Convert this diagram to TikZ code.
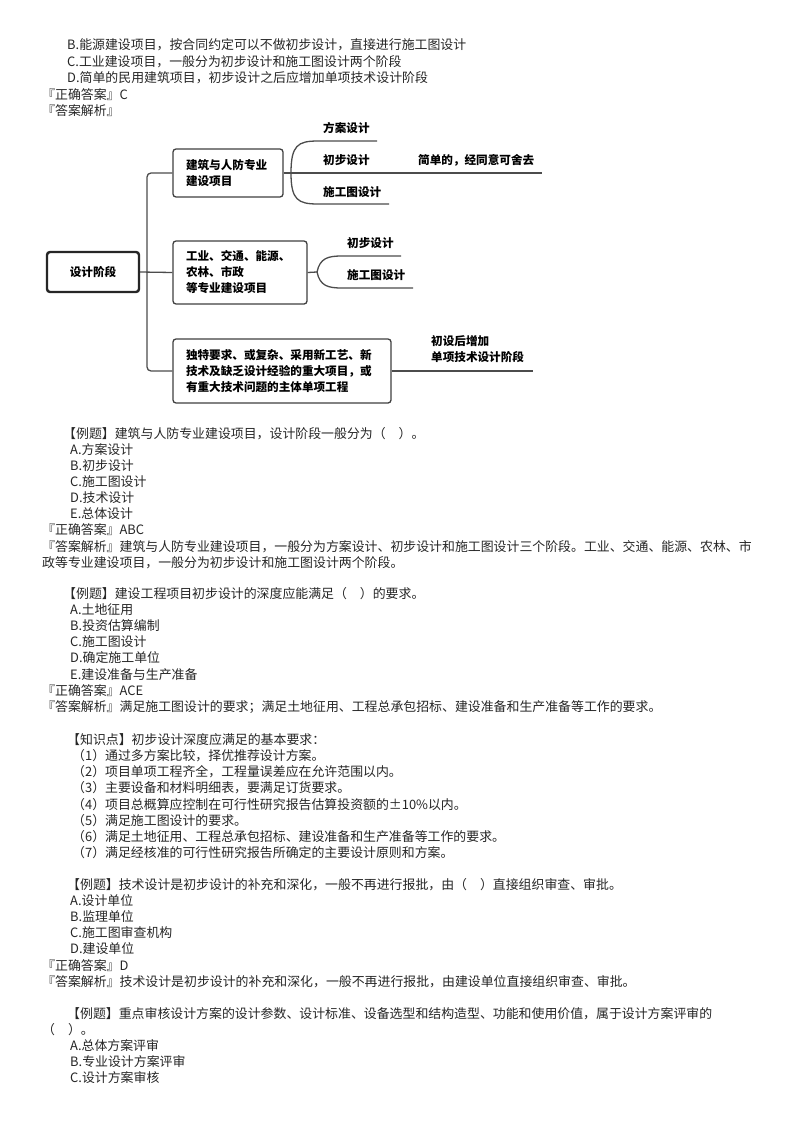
\documentclass[tikz,border=0pt]{standalone}
\usepackage{fontspec}
\setmainfont{Noto Sans CJK SC}
\begin{document}
\begin{tikzpicture}[x=1pt,y=-1pt,
  txt/.style={anchor=west,inner sep=0pt,font=\fontsize{12.9}{15}\selectfont,text=black!85},
  mm/.style={font=\bfseries\fontsize{11.6}{16}\selectfont,inner sep=0pt,text=black},
  bx/.style={draw=black!75,line width=1.3pt,rounded corners=3pt,align=left,inner xsep=13pt,inner ysep=0pt,font=\bfseries\fontsize{11.6}{16}\selectfont},
  ln/.style={draw=black!70,line width=1.3pt}]
\useasboundingbox[fill=white] (0,0) rectangle (800,1132);
% top text
\node[txt] (t1) at (67,45) {B.能源建设项目，按合同约定可以不做初步设计，直接进行施工图设计};
\node[txt] (t2) at (67,62) {C.工业建设项目，一般分为初步设计和施工图设计两个阶段};
\node[txt] (t3) at (67,78) {D.简单的民用建筑项目，初步设计之后应增加单项技术设计阶段};
\node[txt] (t4) at (42,95) {『正确答案』C};
\node[txt] (t5) at (42,111) {『答案解析』};
% mind map
\node[bx,line width=2.4pt,draw=black!85,minimum width=92pt,minimum height=40pt,align=center,inner xsep=4pt] (root) at (93,272) {设计阶段};
\node[bx,minimum width=110pt,minimum height=48pt,text width=84pt] (b1) at (228,173) {建筑与人防专业\\建设项目};
\node[bx,minimum width=134pt,minimum height=63pt,text width=108pt] (b2) at (240,272.5) {工业、交通、能源、\\农林、市政\\等专业建设项目};
\node[bx,minimum width=218pt,minimum height=64pt,text width=192pt] (b3) at (282,371) {独特要求、或复杂、采用新工艺、新\\技术及缺乏设计经验的重大项目，或\\有重大技术问题的主体单项工程};
\coordinate (tr) at (147,272);
\draw[ln,rounded corners=4pt] (b1.west) -| (tr) |- (b3.west);
\draw[ln] (root.east) -- (b2.west);
% branch 1
\coordinate (e1) at (542,173);
\coordinate (s1) at (291,173);
\coordinate (a1) at (377,141);
\coordinate (c1) at (389,204);
\draw[ln] (b1.east) -- (e1);
\draw[ln] (s1) .. controls (291,145) and (298,141) .. (318,141) -- (a1);
\draw[ln] (s1) .. controls (291,200) and (298,204) .. (318,204) -- (c1);
\node[mm,anchor=west] (l11) at (323,128) {方案设计};
\node[mm,anchor=west] (l12) at (323,160) {初步设计};
\node[mm,anchor=west] (l13) at (418,160) {简单的，经同意可舍去};
\node[mm,anchor=west] (l14) at (323,192) {施工图设计};
% branch 2
\coordinate (s2) at (317,272);
\coordinate (a2) at (401,256);
\coordinate (c2) at (413,288);
\draw[ln] (b2.east) -- (s2);
\draw[ln] (s2) .. controls (320,258) and (328,256) .. (342,256) -- (a2);
\draw[ln] (s2) .. controls (320,286) and (328,288) .. (342,288) -- (c2);
\node[mm,anchor=west] (l21) at (347,243) {初步设计};
\node[mm,anchor=west] (l22) at (347,275) {施工图设计};
% branch 3
\coordinate (e3) at (533,371);
\draw[ln] (b3.east) -- (e3);
\node[mm,anchor=west,align=left] (l31) at (431,349) {初设后增加\\单项技术设计阶段};
% example 1
\node[txt] (p1) at (63,434) {【例题】建筑与人防专业建设项目，设计阶段一般分为（\quad）。};
\node[txt] (p2) at (70,450) {A.方案设计};
\node[txt] (p3) at (70,466) {B.初步设计};
\node[txt] (p4) at (70,482) {C.施工图设计};
\node[txt] (p5) at (70,498) {D.技术设计};
\node[txt] (p6) at (70,514) {E.总体设计};
\node[txt] (p7) at (42,530) {『正确答案』ABC};
\node[txt] (p8) at (42,547) {『答案解析』建筑与人防专业建设项目，一般分为方案设计、初步设计和施工图设计三个阶段。工业、交通、能源、农林、市};
\node[txt] (p9) at (42,563) {政等专业建设项目，一般分为初步设计和施工图设计两个阶段。};
% example 2
\node[txt] (q1) at (63,594) {【例题】建设工程项目初步设计的深度应能满足（\quad）的要求。};
\node[txt] (q2) at (70,610) {A.土地征用};
\node[txt] (q3) at (70,626) {B.投资估算编制};
\node[txt] (q4) at (70,642) {C.施工图设计};
\node[txt] (q5) at (70,658) {D.确定施工单位};
\node[txt] (q6) at (70,675) {E.建设准备与生产准备};
\node[txt] (q7) at (42,691) {『正确答案』ACE};
\node[txt] (q8) at (42,707) {『答案解析』满足施工图设计的要求；满足土地征用、工程总承包招标、建设准备和生产准备等工作的要求。};
% knowledge
\node[txt] (k0) at (67,740) {【知识点】初步设计深度应满足的基本要求：};
\node[txt] (k1) at (72,756) {（1）通过多方案比较，择优推荐设计方案。};
\node[txt] (k2) at (72,772) {（2）项目单项工程齐全，工程量误差应在允许范围以内。};
\node[txt] (k3) at (72,788) {（3）主要设备和材料明细表，要满足订货要求。};
\node[txt] (k4) at (72,805) {（4）项目总概算应控制在可行性研究报告估算投资额的±10\%以内。};
\node[txt] (k5) at (72,821) {（5）满足施工图设计的要求。};
\node[txt] (k6) at (72,837) {（6）满足土地征用、工程总承包招标、建设准备和生产准备等工作的要求。};
\node[txt] (k7) at (72,853) {（7）满足经核准的可行性研究报告所确定的主要设计原则和方案。};
% example 3
\node[txt] (r1) at (67,885) {【例题】技术设计是初步设计的补充和深化，一般不再进行报批，由（\quad）直接组织审查、审批。};
\node[txt] (r2) at (70,901) {A.设计单位};
\node[txt] (r3) at (70,917) {B.监理单位};
\node[txt] (r4) at (70,933) {C.施工图审查机构};
\node[txt] (r5) at (70,949) {D.建设单位};
\node[txt] (r6) at (42,966) {『正确答案』D};
\node[txt] (r7) at (42,982) {『答案解析』技术设计是初步设计的补充和深化，一般不再进行报批，由建设单位直接组织审查、审批。};
% example 4
\node[txt] (s1t) at (67,1014) {【例题】重点审核设计方案的设计参数、设计标准、设备选型和结构造型、功能和使用价值，属于设计方案评审的};
\node[txt] (s2t) at (42,1030) {（\quad）。};
\node[txt] (s3t) at (70,1046) {A.总体方案评审};
\node[txt] (s4t) at (70,1062) {B.专业设计方案评审};
\node[txt] (s5t) at (70,1078) {C.设计方案审核};
\end{tikzpicture}
\end{document}
